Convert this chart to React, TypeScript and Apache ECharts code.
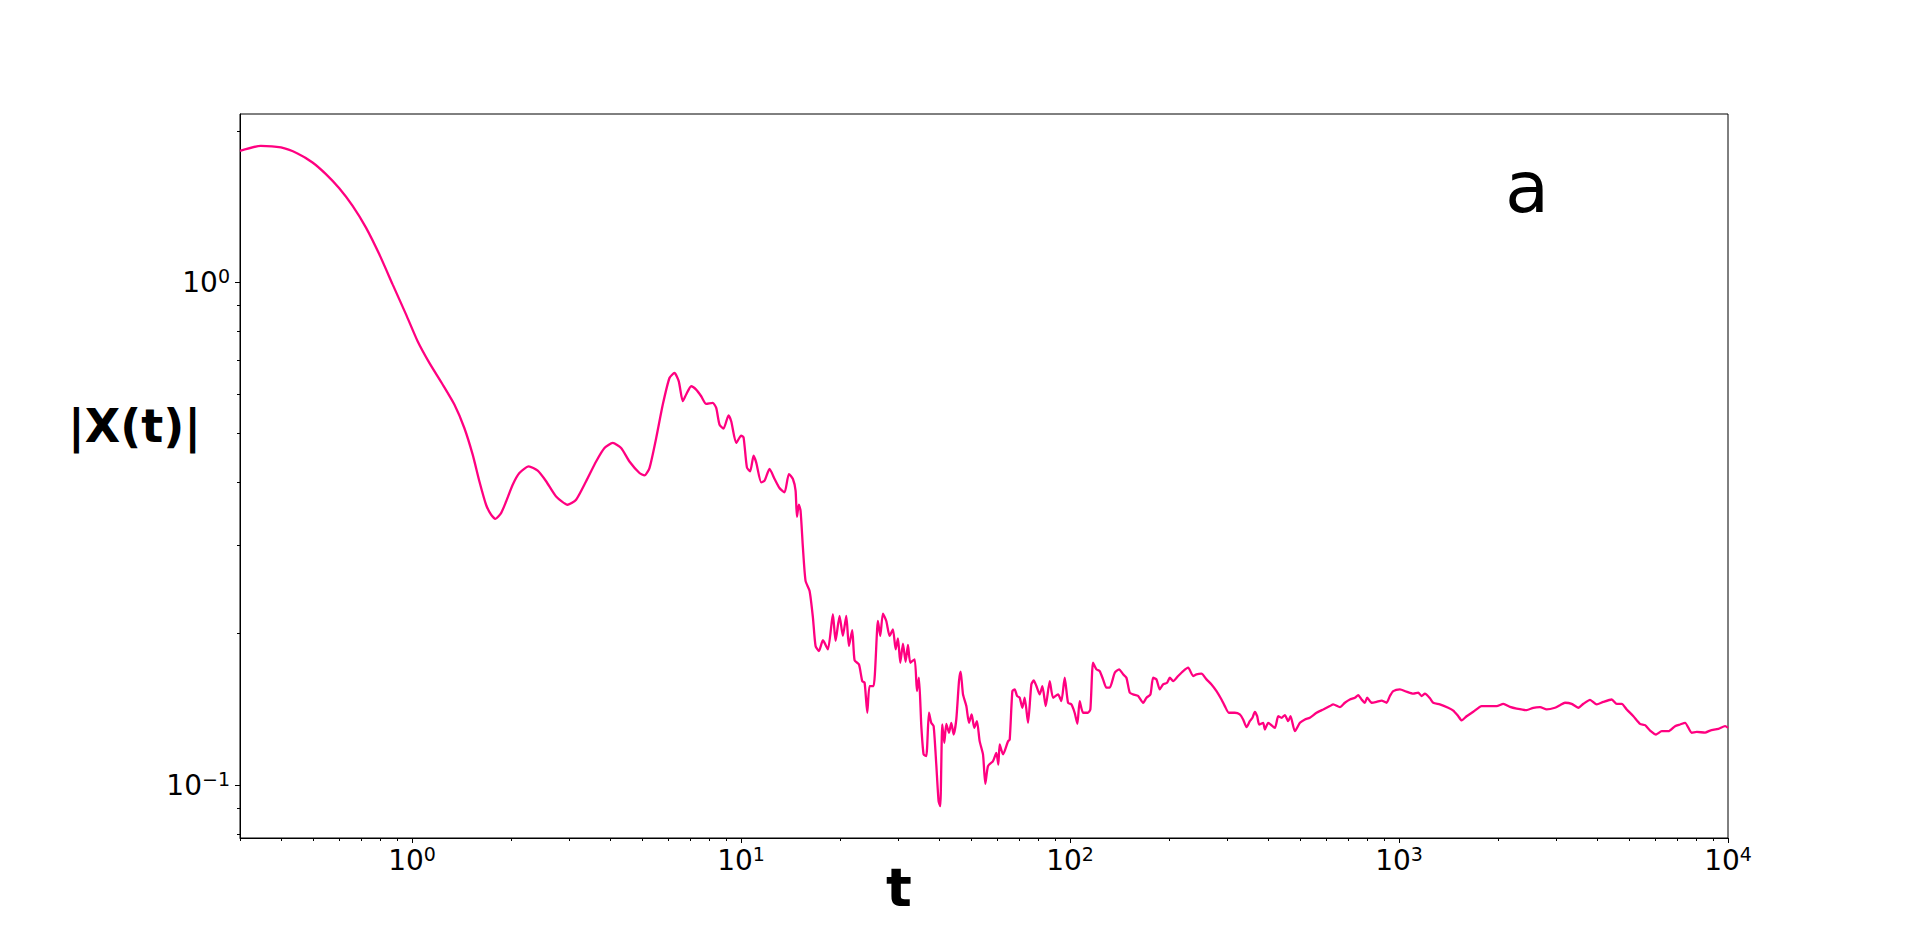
import React, { useEffect, useRef } from "react";
import * as echarts from "echarts";

// time values t
const tValues: number[] = [
  0.3, 0.347, 0.3995, 0.4487, 0.4984, 0.5474, 0.6009, 0.6598, 0.7245, 0.7954,
  0.873, 0.9589, 1.04, 1.129, 1.239, 1.345, 1.442, 1.529, 1.602, 1.679,
  1.739, 1.792, 1.865, 1.932, 2.023, 2.12, 2.263, 2.41, 2.556, 2.741,
  2.973, 3.153, 3.382, 3.627, 3.846, 4.075, 4.321, 4.58, 4.913, 5.088,
  5.269, 5.523, 5.784, 6.061, 6.278, 6.469, 6.653, 6.813, 7.056, 7.307,
  7.568, 7.837, 8.207, 8.406, 8.602, 8.847, 9.163, 9.337, 9.67,
  10.01, 10.18, 10.42, 10.66, 10.92, 11.12, 11.52, 11.79, 12.21, 12.65,
  13.09, 13.56, 13.98, 14.38, 14.65, 14.79, 14.99, 15.17, 15.42, 15.71,
  16.16, 16.54, 16.85, 17.25, 17.74, 18.37, 19.02, 19.38, 19.93, 20.4,
  20.89, 21.28, 21.78, 22.14, 22.83, 23.36, 23.75, 24.2, 24.59, 25.29,
  26.07, 26.5, 27.0, 27.64, 28.29, 28.96, 29.51, 29.99, 30.49, 31.06,
  31.64, 32.17, 32.7, 33.71, 34.26, 34.74, 35.32, 35.89, 36.57, 37.26,
  37.87, 38.5, 39.22, 39.86, 40.33, 40.9, 41.48, 42.07, 42.86, 43.57,
  44.29, 45.12, 45.98, 46.52, 47.29, 48.4, 49.31, 50.23, 51.19, 52.14,
  53.13, 54.39, 55.28, 56.32, 58.33, 59.72, 60.55, 61.12, 62.58, 64.81,
  65.57, 66.81, 67.91, 69.03, 70.31, 71.64, 72.82, 74.55, 76.3, 77.57,
  79.03, 80.89, 82.42, 84.37, 86.77, 88.82, 91.97, 94.13, 96.36, 98.63,
  100.97, 103.3, 105.3, 107.0, 109.6, 113.4, 115.3, 117.5, 120.3, 123.1,
  126.0, 129.0, 132.0, 136.8, 141.0, 145.0, 148.4, 151.9, 155.5, 161.0,
  166.8, 170.8, 175.6, 178.9, 183.1, 187.4, 191.8, 197.3, 201.1, 205.8,
  213.1, 220.8, 228.6, 236.7, 242.3, 250.9, 259.9, 269.2, 278.8, 288.7,
  295.5, 303.9,
  316.9, 328.1, 335.9, 343.9, 352.0, 358.6, 364.6, 370.6, 375.8, 386.5,
  391.1, 400.3, 419.5, 429.4, 439.5, 449.8, 460.4, 468.0, 482.5, 499.8,
  517.6, 535.8, 561.5, 588.3, 616.5, 630.9, 661.1, 684.6, 709.1, 734.3,
  751.6, 769.4, 787.6, 800.5, 825.3, 854.7, 885.1, 916.6, 938.2, 960.5,
  1006, 1054, 1105, 1144, 1171, 1199, 1242, 1271, 1331, 1411,
  1462, 1514, 1550, 1605, 1682, 1783, 1890, 1980, 2075, 2175,
  2279, 2443, 2560, 2683, 2811, 2979, 3085, 3195, 3348, 3508,
  3634, 3807, 3990, 4180, 4431, 4589, 4753, 4922, 5157, 5404,
  5597, 5797, 6045, 6289, 6590, 6905, 7150, 7405, 7759, 8035,
  8520, 8823, 9353, 9799, 10000,
];

// |X(t)| values
const xMagnitude: number[] = [
  1.824, 1.867, 1.853, 1.803, 1.73, 1.64, 1.537, 1.418, 1.284, 1.136,
  0.99, 0.863, 0.763, 0.691, 0.626, 0.571, 0.513, 0.454, 0.402, 0.361,
  0.345, 0.3385, 0.3475, 0.3665, 0.3957, 0.4175, 0.4303, 0.4219, 0.402, 0.375,
  0.361, 0.3694, 0.402, 0.44, 0.468, 0.479, 0.468, 0.44, 0.4175, 0.4129,
  0.427, 0.49, 0.571, 0.645, 0.66, 0.635, 0.58, 0.598, 0.621, 0.6116,
  0.5932, 0.5728, 0.5754, 0.5623, 0.521, 0.5115, 0.5435, 0.529, 0.479,
  0.4953, 0.4915, 0.4284, 0.4206, 0.4518, 0.4382, 0.3999, 0.403, 0.4252, 0.4061,
  0.3897, 0.3819, 0.4155, 0.4061, 0.3849, 0.3417, 0.361, 0.3512, 0.2969, 0.2547,
  0.2433, 0.2154, 0.1891, 0.1848, 0.1941, 0.1862, 0.2187, 0.1935, 0.217, 0.198,
  0.217, 0.1891, 0.2032, 0.1771, 0.1738, 0.161, 0.1598, 0.1393, 0.1574, 0.1574,
  0.212, 0.198, 0.2193, 0.212, 0.198, 0.2041, 0.1862, 0.1958, 0.1751, 0.1911,
  0.1759, 0.19, 0.1751, 0.1779, 0.1538, 0.1635, 0.131, 0.1151, 0.1142, 0.1393,
  0.133, 0.131, 0.1099, 0.0929, 0.0908, 0.132, 0.1214, 0.1324, 0.1271, 0.133,
  0.1261, 0.1351, 0.161, 0.1681, 0.1515, 0.1436, 0.133, 0.1382, 0.13, 0.134,
  0.1223, 0.1151, 0.1006, 0.1091, 0.1116, 0.1159, 0.1099, 0.1205, 0.1151, 0.1223,
  0.1232, 0.1538, 0.155, 0.1504, 0.1492, 0.1425, 0.1492, 0.133, 0.1586, 0.1615,
  0.1574, 0.1515, 0.1574, 0.1436, 0.161, 0.1492, 0.1515, 0.1469, 0.1635, 0.1458,
  0.1447, 0.1393, 0.1324, 0.1469, 0.1393, 0.1393, 0.1414, 0.1751, 0.1699, 0.1686,
  0.1623, 0.1562, 0.1562, 0.1673, 0.1699, 0.1661, 0.1635, 0.1527, 0.1515, 0.1504,
  0.1458, 0.1492, 0.1515, 0.1635, 0.1623, 0.155, 0.1586, 0.1598, 0.1635, 0.161,
  0.1648, 0.1686, 0.1712, 0.1648, 0.1661, 0.1666, 0.1623, 0.1586, 0.1538, 0.148,
  0.1436, 0.1393,
  0.1393, 0.1382, 0.1351, 0.1304, 0.134, 0.1361, 0.1399, 0.1371, 0.132, 0.133,
  0.129, 0.133, 0.13, 0.1371, 0.1361, 0.1378, 0.134, 0.1371, 0.128, 0.133,
  0.1351, 0.1361, 0.1393, 0.1414, 0.1436, 0.1447, 0.1429, 0.1458, 0.148, 0.1492,
  0.151, 0.148, 0.1458, 0.1492, 0.1458, 0.1464, 0.1473, 0.1458, 0.1504, 0.1538,
  0.155, 0.1534, 0.152, 0.1527, 0.1504, 0.152, 0.1488, 0.1458, 0.1447, 0.1425,
  0.1407, 0.1371, 0.1345, 0.1371, 0.1399, 0.1436, 0.1436, 0.1436, 0.1451, 0.1431,
  0.142, 0.141, 0.1425, 0.1429, 0.1414, 0.1425, 0.1442, 0.1458, 0.1451, 0.1425,
  0.1451, 0.1478, 0.1447, 0.1464, 0.148, 0.1451, 0.1451, 0.1414, 0.1371, 0.1324,
  0.1316, 0.1284, 0.1261, 0.128, 0.128, 0.131, 0.132, 0.133, 0.1271, 0.1276,
  0.1272, 0.1284, 0.1294, 0.131, 0.13,
];

const xMajorTicks = [1, 10, 100, 1000, 10000];
const xMinorTicks = [
  0.3, 0.4, 0.5, 0.6, 0.7, 0.8, 0.9,
  2, 3, 4, 5, 6, 7, 8, 9,
  20, 30, 40, 50, 60, 70, 80, 90,
  200, 300, 400, 500, 600, 700, 800, 900,
  2000, 3000, 4000, 5000, 6000, 7000, 8000, 9000,
];
const yMajorTicks = [0.1, 1];
const yMinorTicks = [0.08, 0.09, 0.2, 0.3, 0.4, 0.5, 0.6, 0.7, 0.8, 0.9, 2];

const X_MIN = 0.3;
const X_MAX = 10000;
const Y_MIN = 0.0785;
const Y_MAX = 2.16;

const FONT = "DejaVu Sans";
const LINE_COLOR = "#ff0080";

const powLabel = (v: number) => {
  const e = Math.round(Math.log10(v));
  const s = e < 0 ? "\u2212" + Math.abs(e) : String(e);
  return `{b|10}{s|${s}}`;
};

const richStyle = {
  b: { fontFamily: FONT, fontSize: 28, lineHeight: 32, color: "#000" },
  s: { fontFamily: FONT, fontSize: 19, lineHeight: 19, verticalAlign: "top", color: "#000" },
};

export default function App() {
  const ref = useRef<HTMLDivElement>(null);

  useEffect(() => {
    if (!ref.current) return;
    const chart = echarts.init(ref.current, null, { renderer: "svg" });
    const data = tValues.map((t, i) => [t, xMagnitude[i]]);

    const tickLine = { color: "#000", width: 1 };

    chart.setOption({
      animation: false,
      backgroundColor: "#fff",
      textStyle: { fontFamily: FONT },
      grid: {
        left: 240,
        top: 114,
        width: 1488,
        height: 724,
        show: true,
        borderColor: "#000",
        borderWidth: 1,
        backgroundColor: "transparent",
        containLabel: false,
      },
      xAxis: [
        {
          type: "log",
          logBase: 10,
          min: X_MIN,
          max: X_MAX,
          position: "bottom",
          axisLine: { show: true, lineStyle: { color: "#000", width: 1 } },
          axisTick: { show: true, inside: false, length: 5, lineStyle: tickLine, customValues: xMajorTicks },
          axisLabel: { show: true, margin: 6, customValues: xMajorTicks, formatter: powLabel, rich: richStyle },
          splitLine: { show: false },
          minorTick: { show: false },
        },
        {
          type: "log",
          logBase: 10,
          min: X_MIN,
          max: X_MAX,
          position: "bottom",
          axisLine: { show: false },
          axisTick: { show: true, inside: false, length: 3, lineStyle: tickLine, customValues: xMinorTicks },
          axisLabel: { show: false },
          splitLine: { show: false },
        },
      ],
      yAxis: [
        {
          type: "log",
          logBase: 10,
          min: Y_MIN,
          max: Y_MAX,
          position: "left",
          axisLine: { show: true, lineStyle: { color: "#000", width: 1 } },
          axisTick: { show: true, inside: false, length: 5, lineStyle: tickLine, customValues: yMajorTicks },
          axisLabel: { show: true, margin: 10, customValues: yMajorTicks, formatter: powLabel, rich: richStyle },
          splitLine: { show: false },
        },
        {
          type: "log",
          logBase: 10,
          min: Y_MIN,
          max: Y_MAX,
          position: "left",
          axisLine: { show: false },
          axisTick: { show: true, inside: false, length: 3, lineStyle: tickLine, customValues: yMinorTicks },
          axisLabel: { show: false },
          splitLine: { show: false },
        },
      ],
      series: [
        {
          type: "line",
          xAxisIndex: 0,
          yAxisIndex: 0,
          data,
          showSymbol: false,
          symbol: "none",
          smooth: 0.2,
          lineStyle: { color: LINE_COLOR, width: 2.3 },
          clip: true,
        },
      ],
      graphic: [
        {
          type: "text",
          x: 68,
          y: 426,
          style: {
            text: "|X(t)|",
            font: `bold 46px "${FONT}"`,
            fill: "#000",
            align: "left",
            verticalAlign: "middle",
          },
        },
        {
          type: "text",
          x: 899,
          y: 887,
          style: {
            text: "t",
            font: `bold 54px "${FONT}"`,
            fill: "#000",
            align: "center",
            verticalAlign: "middle",
          },
        },
        {
          type: "text",
          x: 1527,
          y: 187,
          style: {
            text: "a",
            font: `72px "${FONT}"`,
            fill: "#000",
            align: "center",
            verticalAlign: "middle",
          },
        },
      ],
    });

    return () => {
      chart.dispose();
    };
  }, []);

  return (
    <div
      ref={ref}
      style={{ position: "fixed", left: 0, top: 0, width: 1920, height: 942, background: "#fff" }}
    />
  );
}
